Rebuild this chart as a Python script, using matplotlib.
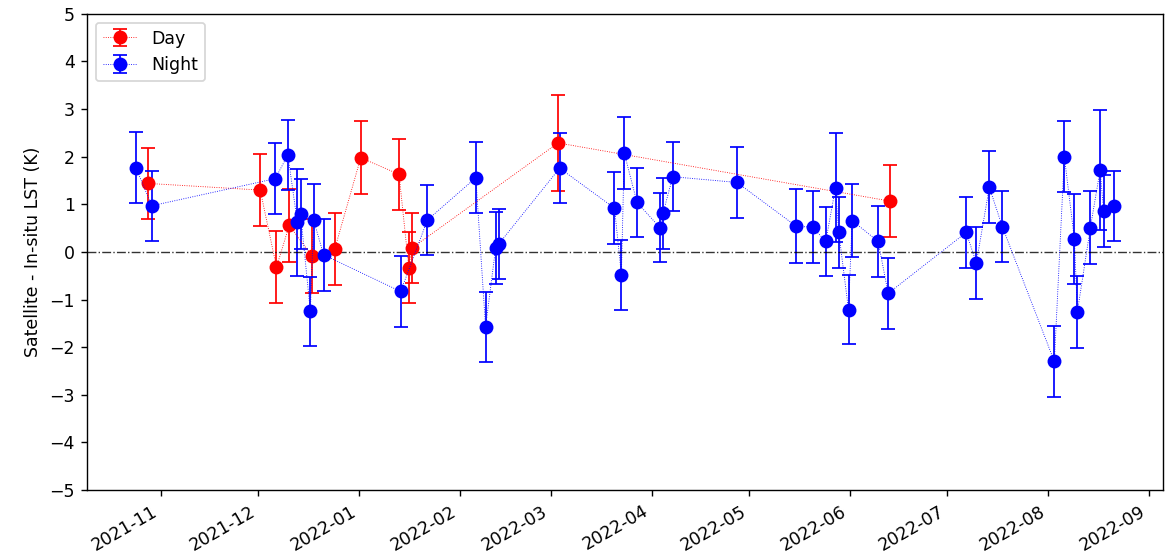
import pandas as pd
import matplotlib
matplotlib.use("Agg")
import matplotlib.pyplot as plt
import matplotlib.dates as mdates

# Day-time matchups
day_dates = ["2021-10-27 22:00", "2021-12-01 14:00", "2021-12-06 14:00", "2021-12-10 12:00",
             "2021-12-17 12:00", "2021-12-24 12:00", "2022-01-01 12:00", "2022-01-13 07:00",
             "2022-01-16 07:00", "2022-01-17 05:00", "2022-03-03 05:00", "2022-06-13 05:00"]
day_diff = [1.44, 1.30, -0.32, 0.56, -0.08, 0.06, 1.98, 1.63, -0.33, 0.08, 2.29, 1.07]
day_err = [0.75, 0.75, 0.75, 0.77, 0.78, 0.75, 0.76, 0.75, 0.75, 0.74, 1.00, 0.76]

# Night-time matchups
night_dates = ["2021-10-24 08:00", "2021-10-29 05:00", "2021-12-06 05:00", "2021-12-10 02:00",
               "2021-12-13 00:00", "2021-12-14 00:00", "2021-12-17 00:00", "2021-12-18 00:00",
               "2021-12-21 02:00", "2022-01-13 19:00", "2022-01-22 00:00", "2022-02-05 22:00",
               "2022-02-08 22:00", "2022-02-12 00:00", "2022-02-13 00:00", "2022-03-03 17:00",
               "2022-03-20 14:00", "2022-03-22 17:00", "2022-03-23 14:00", "2022-03-27 12:00",
               "2022-04-03 14:00", "2022-04-04 12:00", "2022-04-07 12:00", "2022-04-27 07:00",
               "2022-05-15 12:00", "2022-05-20 14:00", "2022-05-24 14:00", "2022-05-27 14:00",
               "2022-05-28 14:00", "2022-05-31 14:00", "2022-06-01 17:00", "2022-06-09 17:00",
               "2022-06-12 19:00", "2022-07-06 19:00", "2022-07-09 22:00", "2022-07-13 22:00",
               "2022-07-17 22:00", "2022-08-02 22:00", "2022-08-06 00:00", "2022-08-09 02:00",
               "2022-08-10 00:00", "2022-08-14 00:00", "2022-08-17 00:00", "2022-08-18 02:00",
               "2022-08-21 05:00"]
night_diff = [1.77, 0.97, 1.54, 2.04, 0.62, 0.80, -1.25, 0.67, -0.06, -0.83, 0.67, 1.56,
              -1.58, 0.08, 0.17, 1.76, 0.92, -0.48, 2.08, 1.04, 0.51, 0.81, 1.58, 1.46,
              0.54, 0.52, 0.22, 1.35, 0.41, -1.21, 0.66, 0.22, -0.87, 0.41, -0.23, 1.36,
              0.53, -2.30, 2.00, 0.27, -1.26, 0.51, 1.72, 0.86, 0.96]
night_err = [0.74, 0.73, 0.75, 0.74, 1.12, 0.73, 0.73, 0.75, 0.75, 0.75, 0.74, 0.75,
             0.74, 0.76, 0.74, 0.74, 0.75, 0.73, 0.75, 0.73, 0.73, 0.74, 0.73, 0.74,
             0.78, 0.76, 0.73, 1.14, 0.74, 0.73, 0.76, 0.74, 0.75, 0.74, 0.75, 0.75,
             0.75, 0.74, 0.75, 0.94, 0.75, 0.76, 1.26, 0.75, 0.74]

day_dates = pd.to_datetime(day_dates)
night_dates = pd.to_datetime(night_dates)

fig = plt.figure(figsize=(1173 / 125, 555 / 125), dpi=125)
ax = fig.add_axes([0.0742, 0.117, 0.917, 0.858])

ax.errorbar(day_dates, day_diff, yerr=day_err, fmt='o:', color='red', ms=7,
            lw=0.5, elinewidth=1, capsize=4, label='Day')
ax.errorbar(night_dates, night_diff, yerr=night_err, fmt='o:', color='blue', ms=7,
            lw=0.5, elinewidth=1, capsize=4, label='Night')
ax.axhline(0, color='k', linestyle='-.', lw=0.8, alpha=0.8)

ax.set_ylim(-5, 5)
ax.set_yticks(range(-5, 6))
ax.set_ylabel("Satellite - In-situ LST (K)")
ax.xaxis.set_major_locator(mdates.MonthLocator())
ax.xaxis.set_major_formatter(mdates.DateFormatter("%Y-%m"))
plt.setp(ax.get_xticklabels(), rotation=30, ha='right')
ax.legend(loc='upper left')

fig.savefig("out.png", dpi=125)
